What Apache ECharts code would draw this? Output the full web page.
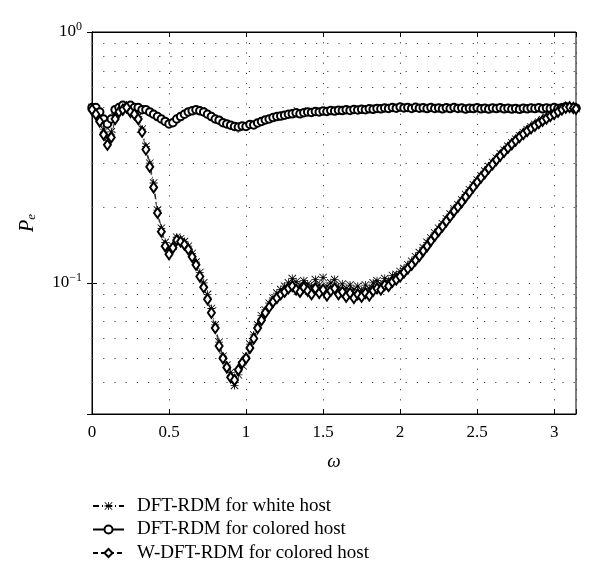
<!DOCTYPE html>
<html>
<head>
<meta charset="utf-8">
<script src="https://cdn.jsdelivr.net/npm/echarts@6/dist/echarts.min.js"></script>
<style>
  html, body { margin: 0; padding: 0; background: #fff; }
  #chart { width: 600px; height: 580px; }
</style>
</head>
<body>
<div id="chart"></div>
<script>
var omega = [
  0, 0.025, 0.05, 0.075, 0.1, 0.125, 0.15, 0.175, 0.2, 0.225,
  0.25, 0.275, 0.3, 0.325, 0.35, 0.375, 0.4, 0.425, 0.45, 0.475,
  0.5, 0.525, 0.55, 0.575, 0.6, 0.625, 0.65, 0.675, 0.7, 0.725,
  0.75, 0.775, 0.8, 0.825, 0.85, 0.875, 0.9, 0.925, 0.95, 0.975,
  1, 1.025, 1.05, 1.075, 1.1, 1.125, 1.15, 1.175, 1.2, 1.225,
  1.25, 1.275, 1.3, 1.325, 1.35, 1.375, 1.4, 1.425, 1.45, 1.475,
  1.5, 1.525, 1.55, 1.575, 1.6, 1.625, 1.65, 1.675, 1.7, 1.725,
  1.75, 1.775, 1.8, 1.825, 1.85, 1.875, 1.9, 1.925, 1.95, 1.975,
  2, 2.025, 2.05, 2.075, 2.1, 2.125, 2.15, 2.175, 2.2, 2.225,
  2.25, 2.275, 2.3, 2.325, 2.35, 2.375, 2.4, 2.425, 2.45, 2.475,
  2.5, 2.525, 2.55, 2.575, 2.6, 2.625, 2.65, 2.675, 2.7, 2.725,
  2.75, 2.775, 2.8, 2.825, 2.85, 2.875, 2.9, 2.925, 2.95, 2.975,
  3, 3.025, 3.05, 3.075, 3.1, 3.125, 3.1416
];

// DFT-RDM for white host
var whiteHost = [
  0.50, 0.49, 0.46, 0.41, 0.38, 0.40, 0.46, 0.49, 0.50, 0.51,
  0.49, 0.48, 0.46, 0.41, 0.35, 0.30, 0.25, 0.195, 0.165, 0.145,
  0.135, 0.14, 0.152, 0.15, 0.146, 0.14, 0.131, 0.121, 0.11, 0.1,
  0.09, 0.079, 0.068, 0.058, 0.051, 0.047, 0.044, 0.039, 0.043, 0.047,
  0.051, 0.057, 0.062, 0.068, 0.074, 0.078, 0.083, 0.087, 0.091, 0.094,
  0.097, 0.1, 0.104, 0.101, 0.098, 0.102, 0.099, 0.097, 0.103, 0.098,
  0.105, 0.097, 0.1, 0.103, 0.096, 0.099, 0.095, 0.098, 0.094, 0.097,
  0.093, 0.098, 0.095, 0.1, 0.102, 0.099, 0.104, 0.102, 0.107, 0.108,
  0.111, 0.114, 0.118, 0.122, 0.127, 0.132, 0.138, 0.145, 0.151, 0.158,
  0.165, 0.172, 0.18, 0.188, 0.197, 0.205, 0.214, 0.225, 0.235, 0.246,
  0.257, 0.267, 0.279, 0.291, 0.302, 0.314, 0.327, 0.338, 0.35, 0.362,
  0.374, 0.386, 0.397, 0.408, 0.418, 0.428, 0.437, 0.447, 0.457, 0.466,
  0.475, 0.486, 0.496, 0.503, 0.505, 0.5, 0.495
];

// DFT-RDM for colored host
var coloredHost = [
  0.50, 0.50, 0.48, 0.45, 0.43, 0.45, 0.49, 0.50, 0.51, 0.50,
  0.51, 0.50, 0.50, 0.49, 0.49, 0.48, 0.47, 0.46, 0.45, 0.44,
  0.43, 0.435, 0.45, 0.46, 0.47, 0.48, 0.485, 0.49, 0.485, 0.48,
  0.47, 0.46, 0.45, 0.445, 0.435, 0.43, 0.425, 0.42, 0.418, 0.422,
  0.42, 0.428, 0.426, 0.434, 0.44, 0.446, 0.45, 0.456, 0.46, 0.462,
  0.466, 0.47, 0.472, 0.476, 0.472, 0.477, 0.48, 0.478, 0.482, 0.48,
  0.484, 0.482, 0.486, 0.484, 0.488, 0.486, 0.49, 0.487, 0.491, 0.489,
  0.492, 0.49, 0.494, 0.492, 0.496, 0.494, 0.498, 0.496, 0.5, 0.497,
  0.502, 0.498, 0.5, 0.496, 0.501, 0.497, 0.499, 0.495, 0.5, 0.496,
  0.498, 0.494, 0.499, 0.495, 0.5, 0.496, 0.498, 0.493, 0.497, 0.495,
  0.499, 0.494, 0.497, 0.493, 0.498, 0.495, 0.499, 0.494, 0.497, 0.493,
  0.496, 0.492, 0.497, 0.494, 0.498, 0.495, 0.499, 0.494, 0.498, 0.495,
  0.5, 0.496, 0.499, 0.503, 0.5, 0.498, 0.497
];

// W-DFT-RDM for colored host
var wColoredHost = [
  0.49, 0.47, 0.44, 0.39, 0.355, 0.38, 0.45, 0.48, 0.49, 0.50,
  0.48, 0.47, 0.45, 0.40, 0.34, 0.29, 0.24, 0.19, 0.16, 0.14,
  0.13, 0.138, 0.148, 0.146, 0.142, 0.136, 0.127, 0.118, 0.106, 0.096,
  0.086, 0.076, 0.066, 0.056, 0.05, 0.046, 0.042, 0.041, 0.045, 0.048,
  0.05, 0.055, 0.06, 0.066, 0.071, 0.076, 0.08, 0.084, 0.087, 0.09,
  0.092, 0.095, 0.097, 0.094, 0.092, 0.096, 0.093, 0.09, 0.095, 0.091,
  0.094, 0.089, 0.093, 0.095, 0.09, 0.092, 0.088, 0.091, 0.087, 0.09,
  0.088, 0.091, 0.089, 0.093, 0.095, 0.094, 0.098, 0.097, 0.101, 0.103,
  0.106, 0.11, 0.114, 0.118, 0.123, 0.128, 0.134, 0.14, 0.147, 0.154,
  0.161, 0.168, 0.176, 0.184, 0.193, 0.201, 0.21, 0.22, 0.23, 0.241,
  0.252, 0.263, 0.274, 0.286, 0.297, 0.309, 0.321, 0.333, 0.345, 0.357,
  0.369, 0.381, 0.392, 0.403, 0.413, 0.423, 0.433, 0.443, 0.452, 0.462,
  0.471, 0.481, 0.491, 0.499, 0.502, 0.498, 0.494
];

var seriesNames = ['DFT-RDM for white host', 'DFT-RDM for colored host', 'W-DFT-RDM for colored host'];

// dotted log grid lines (minor + major)
var yGridLines = [0.04, 0.05, 0.06, 0.07, 0.08, 0.09, 0.1, 0.2, 0.3, 0.4, 0.5, 0.6, 0.7, 0.8, 0.9];

var fontFamily = '"Liberation Serif", "DejaVu Serif", serif';
var starPath = 'path://M9,0L11,0L11,20L9,20Z M0,9L20,9L20,11L0,11Z M0,1.4L1.4,0L20,18.6L18.6,20Z M18.6,0L20,1.4L1.4,20L0,18.6Z';

function pairs(arr) {
    return omega.map(function (w, i) { return [w, arr[i]]; });
}

var dom = document.getElementById('chart');
var myChart = echarts.init(dom, null, { renderer: 'canvas' });

var option = {
    backgroundColor: '#fff',
    animation: false,
    grid: {
        left: 92, right: 24, top: 32, bottom: 166,
        show: true, borderColor: '#000', borderWidth: 1
    },
    legend: {
        orient: 'vertical',
        left: 92,
        top: 496,
        padding: 0,
        itemWidth: 31,
        itemHeight: 10,
        itemGap: 3.5,
        data: seriesNames,
        textStyle: {
            fontFamily: fontFamily, fontSize: 19, color: '#000',
            lineHeight: 20, padding: [0, 0, 0, 8]
        }
    },
    xAxis: [
        {
            type: 'value', min: 0, max: Math.PI, interval: 0.5,
            name: 'ω', nameLocation: 'middle', nameGap: 38,
            nameTextStyle: { fontFamily: fontFamily, fontSize: 19, fontStyle: 'italic', color: '#000' },
            axisLine: { lineStyle: { color: '#000', width: 1 } },
            axisTick: { inside: true, length: 5, lineStyle: { color: '#000' } },
            axisLabel: {
                fontFamily: fontFamily, fontSize: 17, color: '#000', margin: 10,
                formatter: function (v) {
                    return Math.abs(v * 2 - Math.round(v * 2)) < 1e-6 ? String(v) : '';
                }
            },
            splitLine: { show: true, lineStyle: { color: '#444', type: [1.2, 9], width: 1 } }
        },
        {
            type: 'value', min: 0, max: Math.PI, interval: 0.5, position: 'top',
            axisLine: { lineStyle: { color: '#000', width: 1 } },
            axisTick: { inside: true, length: 5, lineStyle: { color: '#000' } },
            axisLabel: { show: false },
            splitLine: { show: false }
        }
    ],
    yAxis: [
        {
            type: 'log', logBase: 10, min: 0.03, max: 1,
            name: '{p|P}{e|e}', nameLocation: 'middle', nameGap: 54, nameRotate: 90,
            nameTextStyle: {
                rich: {
                    p: { fontFamily: fontFamily, fontSize: 20, fontStyle: 'italic', color: '#000' },
                    e: { fontFamily: fontFamily, fontSize: 13, fontStyle: 'italic', color: '#000', padding: [8, 0, 0, 0] }
                }
            },
            axisLine: { lineStyle: { color: '#000', width: 1 } },
            axisTick: { inside: true, length: 5, lineStyle: { color: '#000' } },
            axisLabel: {
                margin: 10,
                formatter: function (v) {
                    var e = Math.log10(v);
                    if (Math.abs(e - Math.round(e)) > 1e-6) return '';
                    var n = Math.round(e);
                    return '{b|10}{s|' + (n < 0 ? '\u2212' + (-n) : n) + '}';
                },
                rich: {
                    b: { fontFamily: fontFamily, fontSize: 17, color: '#000' },
                    s: { fontFamily: fontFamily, fontSize: 12, color: '#000', padding: [0, 0, 10, 0] }
                }
            },
            splitLine: { show: false }
        },
        {
            type: 'log', logBase: 10, min: 0.03, max: 1, position: 'right',
            axisLine: { lineStyle: { color: '#000', width: 1 } },
            axisTick: { inside: true, length: 5, lineStyle: { color: '#000' } },
            axisLabel: { show: false },
            splitLine: { show: false }
        }
    ],
    series: [
        {
            name: seriesNames[0],
            type: 'line',
            data: pairs(whiteHost),
            symbol: starPath,
            symbolSize: 8,
            itemStyle: { color: '#000' },
            lineStyle: { color: '#000', width: 0.8, type: [6, 3, 1, 3] },
            z: 3,
            markLine: {
                silent: true,
                symbol: ['none', 'none'],
                label: { show: false },
                z: 1,
                lineStyle: { color: '#444', type: [1.2, 10], width: 1 },
                data: yGridLines.map(function (v) { return { yAxis: v }; })
            }
        },
        {
            name: seriesNames[1],
            type: 'line',
            data: pairs(coloredHost),
            symbol: 'emptyCircle',
            symbolSize: 7.5,
            itemStyle: { color: '#000', borderColor: '#000', borderWidth: 1.2 },
            lineStyle: { color: '#000', width: 0.8 },
            z: 4
        },
        {
            name: seriesNames[2],
            type: 'line',
            data: pairs(wColoredHost),
            symbol: 'emptyDiamond',
            symbolSize: [7, 10],
            itemStyle: { color: '#000', borderColor: '#000', borderWidth: 1.2 },
            lineStyle: { color: '#000', width: 0.8, type: [5, 3] },
            z: 5
        }
    ]
};

if (option && typeof option === 'object') {
    myChart.setOption(option);
}

window.addEventListener('resize', myChart.resize);
</script>
</body>
</html>
